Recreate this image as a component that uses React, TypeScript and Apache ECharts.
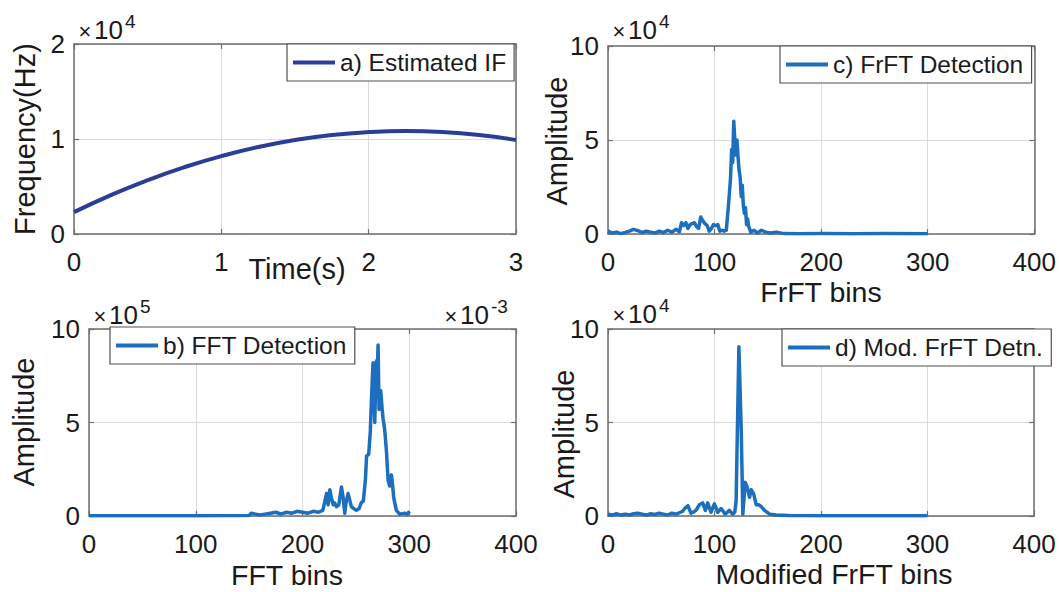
import React, { useEffect, useRef } from "react";
import * as echarts from "echarts";

// ---------- DATA ----------
// a) Estimated IF : time (s) and frequency (x10^4 Hz)
const ifTime = [0, 0.25, 0.5, 0.75, 1, 1.25, 1.5, 1.75, 2, 2.25, 2.5, 2.75, 3];
const ifFreq_e4 = [0.23, 0.41, 0.567, 0.704, 0.82, 0.915, 0.989, 1.042, 1.073, 1.084, 1.074, 1.043, 0.99];

// c) FrFT detection : bins and amplitude (x10^4)
const frftBins = [0, 4, 8, 12, 16, 20, 24, 28, 32, 36, 40, 44, 48, 52, 56, 60, 64, 67, 69, 71, 73, 75, 77, 79, 81, 83, 85, 87, 89, 91, 93, 95, 97, 99, 101, 103, 105, 107, 109, 111, 113, 115, 116, 117, 118, 119, 120, 121, 122, 123, 124, 125, 126, 127, 128, 129, 130, 131, 132, 134, 137, 140, 144, 148, 152, 158, 165, 180, 200, 230, 260, 300];
const frftAmp_e4 = [0.15, 0.05, 0.1, 0.02, 0.08, 0.15, 0.25, 0.18, 0.08, 0.15, 0.1, 0.05, 0.15, 0.08, 0.2, 0.1, 0.25, 0.12, 0.6, 0.45, 0.6, 0.3, 0.5, 0.55, 0.6, 0.4, 0.3, 0.9, 0.7, 0.55, 0.45, 0.15, 0.3, 0.5, 0.45, 0.5, 0.15, 0.2, 0.15, 0.2, 1.5, 3.0, 4.5, 3.8, 6.0, 5.0, 4.2, 5.0, 4.1, 3.4, 3.0, 2.0, 2.6, 1.5, 1.1, 1.4, 0.5, 0.8, 0.4, 0.1, 0.2, 0.05, 0.2, 0.1, 0.05, 0.1, 0.02, 0.01, 0.02, 0.01, 0.02, 0.01];

// b) FFT detection : bins and amplitude (x10^5)
const fftBins = [0, 50, 100, 150, 152, 156, 160, 165, 170, 175, 180, 185, 190, 195, 200, 205, 210, 215, 219, 221, 222.5, 224, 225.6, 227, 228.7, 230, 231.8, 234, 236.5, 238, 239.6, 241, 242.7, 244, 245.8, 248, 250.5, 253, 255, 257, 259, 260, 262, 263.5, 264.6, 265.5, 266.1, 267, 267.7, 268.5, 269.3, 270, 270.8, 271.7, 272.5, 273.3, 274.5, 275.5, 277, 278.6, 280.2, 281.7, 283.3, 284.5, 285.4, 287.9, 291, 295.7, 298, 300.3];
const fftAmp_e5 = [0.02, 0.02, 0.02, 0.03, 0.15, 0.1, 0.05, 0.1, 0.15, 0.2, 0.1, 0.2, 0.15, 0.25, 0.2, 0.15, 0.25, 0.2, 0.3, 0.8, 1.2, 0.6, 1.4, 1.0, 0.6, 0.7, 0.5, 0.6, 1.55, 1.0, 0.15, 0.8, 1.2, 0.9, 0.5, 0.4, 0.3, 0.4, 0.7, 0.8, 2.0, 3.2, 3.3, 4.5, 6.2, 7.5, 8.2, 6.5, 5.0, 7.0, 8.3, 7.5, 9.15, 5.7, 6.2, 6.7, 5.8, 5.2, 4.6, 3.5, 1.9, 1.6, 2.2, 1.6, 1.0, 0.3, 0.1, 0.15, 0.1, 0.25];

// d) Modified FrFT detection : bins and amplitude (x10^4)
const modBins = [0, 4, 8, 12, 16, 20, 24, 28, 32, 36, 40, 44, 48, 52, 56, 60, 64, 68, 70, 72, 75, 78, 80, 82.6, 85.8, 88.9, 91.4, 93.6, 96.7, 99.9, 103, 106.2, 110, 114, 117, 119, 120.3, 122.9, 125.1, 126.6, 128.8, 130.7, 132.9, 134.5, 136.7, 139.2, 141.5, 143.9, 147, 151.8, 158, 170, 200, 250, 300];
const modAmp_e4 = [0.1, 0.05, 0.12, 0.05, 0.1, 0.05, 0.12, 0.15, 0.1, 0.05, 0.12, 0.08, 0.15, 0.1, 0.05, 0.15, 0.1, 0.2, 0.25, 0.4, 0.55, 0.15, 0.2, 0.3, 0.6, 0.7, 0.3, 0.7, 0.2, 0.65, 0.2, 0.4, 0.1, 0.3, 0.1, 0.2, 0.8, 9.05, 4.6, 0.1, 1.8, 1.55, 1.0, 1.4, 1.2, 0.6, 0.6, 0.5, 0.3, 0.1, 0.05, 0.03, 0.02, 0.02, 0.01];

// exponent labels: [x of "×", base "10", superscript]
const exponents = [
  { x: 77, y: 30, base: "10", sup: "4" },
  { x: 611, y: 30, base: "10", sup: "4" },
  { x: 92, y: 315, base: "10", sup: "5" },
  { x: 443, y: 315, base: "10", sup: "-3" },
  { x: 611, y: 314, base: "10", sup: "4" },
];

// ---------- STYLE ----------
const FONT = '"Liberation Sans", Arial, Helvetica, sans-serif';
const FRAME = "#6e6e6e";
const GRIDC = "#dcdcdc";
const TXT = "#1a1a1a";
const BLUE = "#1c6fbf";
const NAVY = "#2c3d98";

const pair = (xs: number[], ys: number[]) => xs.map((x, i) => [x, ys[i]]);

export default function App() {
  const ref = useRef<HTMLDivElement>(null);
  useEffect(() => {
    if (!ref.current) return;
    const chart = echarts.init(ref.current, null, { renderer: "svg" });

    const grids = [
      { left: 74, top: 44, width: 442, height: 190 },
      { left: 608, top: 46, width: 427, height: 188 },
      { left: 89, top: 329, width: 427, height: 187 },
      { left: 608, top: 329, width: 426, height: 187 },
    ];
    const ranges = [
      { x: [0, 3, 1], y: [0, 2, 1] },
      { x: [0, 400, 100], y: [0, 10, 5] },
      { x: [0, 400, 100], y: [0, 10, 5] },
      { x: [0, 400, 100], y: [0, 10, 5] },
    ];
    const xAxis: any[] = [];
    const yAxis: any[] = [];
    ranges.forEach((r, g) => {
      const common = {
        gridIndex: g,
        type: "value",
        axisLine: { show: true, onZero: false, lineStyle: { color: FRAME, width: 1.5 } },
        axisTick: { show: true, inside: true, length: 5, lineStyle: { color: FRAME, width: 1.2 } },
      };
      xAxis.push({
        ...common,
        position: "bottom",
        min: r.x[0], max: r.x[1], interval: r.x[2],
        splitLine: { show: true, lineStyle: { color: GRIDC, width: 1 } },
        axisLabel: { show: true, fontSize: 26, fontFamily: FONT, color: TXT, margin: 15 },
      });
      xAxis.push({
        ...common,
        position: "top",
        min: r.x[0], max: r.x[1], interval: r.x[2],
        splitLine: { show: false },
        axisLabel: { show: false },
      });
      yAxis.push({
        ...common,
        position: "left",
        min: r.y[0], max: r.y[1], interval: r.y[2],
        splitLine: { show: true, lineStyle: { color: GRIDC, width: 1 } },
        axisLabel: { show: true, fontSize: 26, fontFamily: FONT, color: TXT, margin: 9 },
      });
      yAxis.push({
        ...common,
        position: "right",
        min: r.y[0], max: r.y[1], interval: r.y[2],
        splitLine: { show: false },
        axisLabel: { show: false },
      });
    });

    const names = ["a) Estimated IF", "c) FrFT Detection", "b) FFT Detection", "d) Mod. FrFT Detn."];
    const datas = [
      pair(ifTime, ifFreq_e4),
      pair(frftBins, frftAmp_e4),
      pair(fftBins, fftAmp_e5),
      pair(modBins, modAmp_e4),
    ];
    const series = datas.map((d, g) => ({
      name: names[g],
      type: "line",
      xAxisIndex: 2 * g,
      yAxisIndex: 2 * g,
      data: d,
      showSymbol: false,
      symbol: "none",
      smooth: g === 0,
      lineStyle: { color: g === 0 ? NAVY : BLUE, width: g === 0 ? 4 : 3.5, join: "round" },
      itemStyle: { color: g === 0 ? NAVY : BLUE },
      clip: true,
      z: 5,
    }));

    const legendPos = [
      { left: 287, top: 44 },
      { left: 780, top: 46 },
      { left: 110, top: 327 },
      { left: 782, top: 329 },
    ];
    const legend = legendPos.map((p, g) => ({
      data: [names[g]],
      left: p.left,
      top: p.top,
      orient: "horizontal",
      selectedMode: false,
      icon: "rect",
      itemWidth: 42,
      itemHeight: 4,
      padding: [6, 8, 6, 6],
      backgroundColor: "#ffffff",
      borderColor: "#505050",
      borderWidth: 1.2,
      borderRadius: 0,
      textStyle: { fontSize: 24.5, fontFamily: FONT, color: TXT },
      z: 10,
    }));

    const t = (text: string, x: number, y: number, size: number, extra: any = {}) => ({
      type: "text",
      x,
      y,
      z: 20,
      style: {
        text,
        fontSize: size,
        fontFamily: FONT,
        fill: TXT,
        align: "center",
        verticalAlign: "middle",
        ...extra,
      },
    });
    const vt = (text: string, x: number, y: number, size: number) => ({
      ...t(text, x, y, size),
      rotation: Math.PI / 2,
    });

    const graphic: any[] = [
      // axis titles
      vt("Frequency(Hz)", 25, 139, 29),
      vt("Amplitude", 557, 141, 29),
      vt("Amplitude", 24, 422, 29),
      vt("Amplitude", 564, 434, 29),
      t("Time(s)", 297, 269, 29),
      t("FrFT bins", 821, 292, 28.5),
      t("FFT bins", 287, 575, 28.5),
      t("Modified FrFT bins", 834, 574, 28.5),
    ];
    exponents.forEach((e) => {
      graphic.push(t("×", e.x + 8, e.y + 1, 22));
      graphic.push(t(e.base, e.x + 17, e.y, 26, { align: "left" }));
      graphic.push(t(e.sup, e.x + 48, e.y - 9, 19, { align: "left" }));
    });

    chart.setOption({
      animation: false,
      backgroundColor: "#ffffff",
      grid: grids.map((g) => ({ ...g, containLabel: false })),
      xAxis,
      yAxis,
      series,
      legend,
      graphic,
    });
    return () => chart.dispose();
  }, []);

  return (
    <div
      ref={ref}
      style={{ position: "fixed", left: 0, top: 0, width: 1059, height: 592, background: "#fff" }}
    />
  );
}
